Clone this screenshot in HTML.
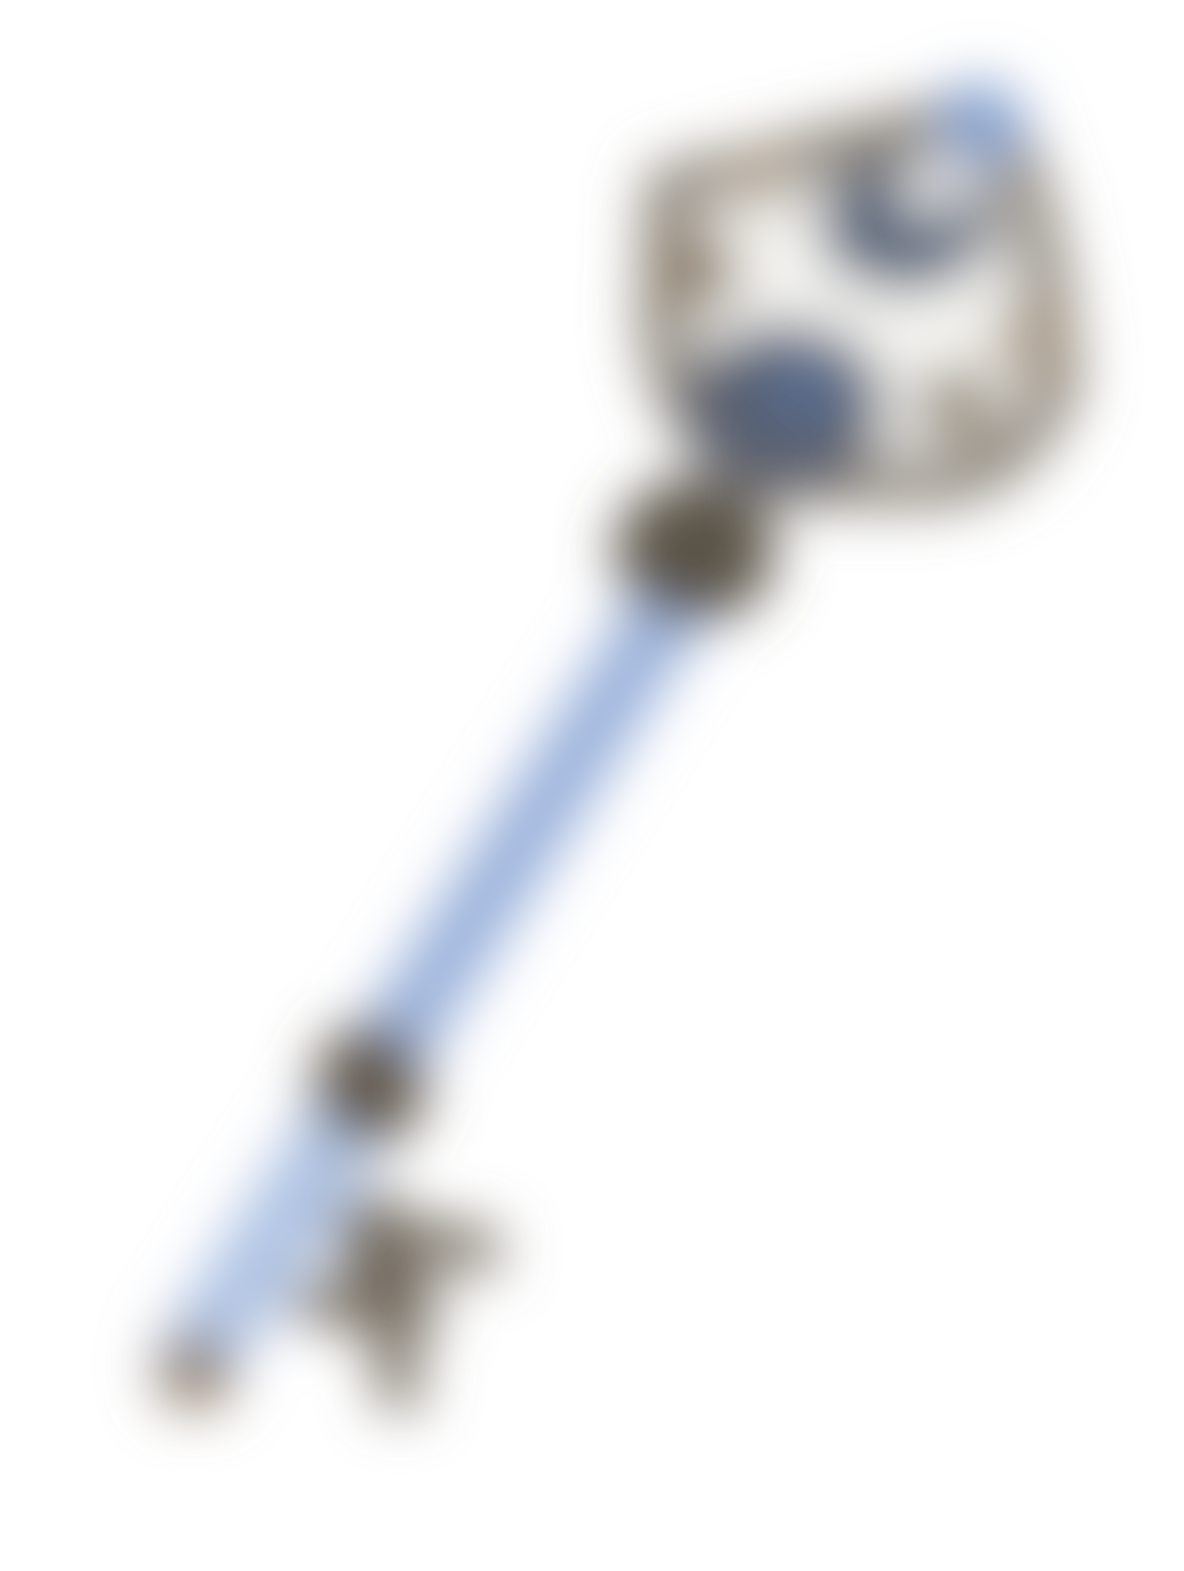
<!DOCTYPE html>
<html>
<head>
<meta charset="utf-8">
<style>
  html,body{margin:0;padding:0;background:#ffffff;}
  svg{display:block;}
</style>
</head>
<body>
<svg width="1184" height="1571" viewBox="0 0 1184 1571" xmlns="http://www.w3.org/2000/svg">
  <defs>
    <filter id="blur" x="-30%" y="-30%" width="160%" height="160%">
      <feGaussianBlur stdDeviation="28"/>
    </filter>
  </defs>
  <rect width="1184" height="1571" fill="#ffffff"/>
  <g filter="url(#blur)">
    <line x1="195" y1="1360" x2="680" y2="590" stroke="#adc2e4" stroke-width="78" stroke-linecap="round"/>
    <line x1="380" y1="1060" x2="670" y2="610" stroke="#94acd8" stroke-width="48" stroke-linecap="round"/>
    <path d="M670 190 L990 115 Q1040 200 1055 380 Q1020 470 940 480 L760 480 Q670 420 665 320 Z" fill="#f6f5f2" stroke="#8a8276" stroke-width="50" stroke-linejoin="round"/>
    <circle cx="980" cy="125" r="42" fill="#7e9ccc"/>
    <ellipse cx="905" cy="225" rx="88" ry="66" fill="#5a667a"/>
    <circle cx="930" cy="190" r="28" fill="#ececec"/>
    <ellipse cx="785" cy="405" rx="100" ry="82" fill="#565f70"/>
    <circle cx="805" cy="385" r="40" fill="#5a6e92"/>
    <circle cx="760" cy="175" r="32" fill="#a89a86"/>
    <circle cx="700" cy="270" r="40" fill="#8e7f6b"/>
    <circle cx="1030" cy="340" r="36" fill="#a89884"/>
    <circle cx="955" cy="405" r="38" fill="#8e8270"/>
    <ellipse cx="695" cy="550" rx="80" ry="72" fill="#5a5247"/>
    <ellipse cx="370" cy="1085" rx="56" ry="62" fill="#62584b"/>
    <g stroke="#766d61" stroke-width="44" stroke-linecap="round">
      <line x1="350" y1="1230" x2="480" y2="1250"/>
      <line x1="375" y1="1210" x2="400" y2="1390"/>
      <line x1="310" y1="1300" x2="420" y2="1310"/>
    </g>
    <circle cx="385" cy="1275" r="36" fill="#665f54"/>
    <circle cx="195" cy="1372" r="38" fill="#8e7d69"/>
  </g>
</svg>
</body>
</html>
